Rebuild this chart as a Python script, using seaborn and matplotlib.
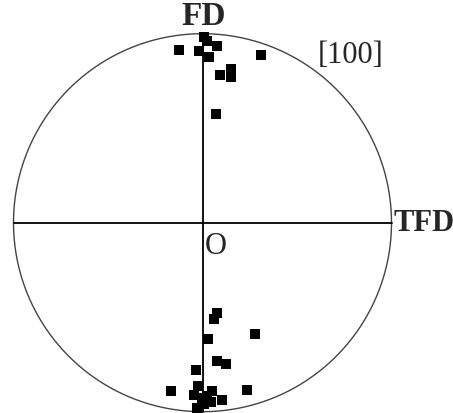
import numpy as np
import pandas as pd
import matplotlib
matplotlib.use("Agg")
import matplotlib.pyplot as plt
import seaborn as sns

sns.set_style("white")
plt.rcParams['font.family'] = ['Liberation Serif', 'DejaVu Serif']

# pole figure points (unit circle coordinates, FD up, TFD right)
x_pts = [-0.123, -0.019, 0.008, 0.024, 0.077, 0.037, 0.311, 0.094, 0.149, 0.149, 0.071,
         0.079, 0.063, 0.278, 0.031, 0.077, 0.126, -0.034, -0.026, -0.168, 0.237,
         -0.043, 0.052, -0.004, 0.045, 0.101, 0.010, -0.031, 0.024]
y_pts = [0.913, 0.906, 0.983, 0.961, 0.935, 0.879, 0.886, 0.782, 0.813, 0.769, 0.573,
         -0.478, -0.510, -0.587, -0.614, -0.732, -0.749, -0.782, -0.862, -0.892, -0.884,
         -0.909, -0.893, -0.929, -0.947, -0.939, -0.959, -0.982, -0.917]
pole_label = '[100]'
axis_labels = ['FD', 'TFD', 'O']

df = pd.DataFrame({'x': x_pts, 'y': y_pts})

fig = plt.figure(figsize=(4.53, 4.14), dpi=100)
ax = fig.add_axes([0, 0, 1, 1])

# circle outline and the two reference axes
theta = np.linspace(0, 2 * np.pi, 400)
ax.plot(np.cos(theta), np.sin(theta), color='#444444', lw=1.0)
ax.plot([-1, 1], [0, 0], color='black', lw=1.3)
ax.plot([0, 0], [-1, 1], color='black', lw=1.3)

sns.scatterplot(data=df, x='x', y='y', marker='s', color='black', s=45,
                linewidth=0, ax=ax, zorder=3)

ax.text(0.005, 1.015, axis_labels[0], fontsize=24, fontweight='bold', ha='center', va='bottom')
ax.text(1.01, 0.0, axis_labels[1], fontsize=22, fontweight='bold', ha='left', va='center')
ax.text(0.01, -0.045, axis_labels[2], fontsize=22, ha='left', va='top')
ax.text(0.61, 0.89, pole_label, fontsize=22, ha='left', va='center')

ax.set_xlim(-202.5 / 189, (453 - 202.5) / 189)
ax.set_ylim((223.7 - 414) / 189, 223.7 / 189)
ax.set_aspect('auto')
ax.axis('off')

fig.savefig('out.png', dpi=100)
